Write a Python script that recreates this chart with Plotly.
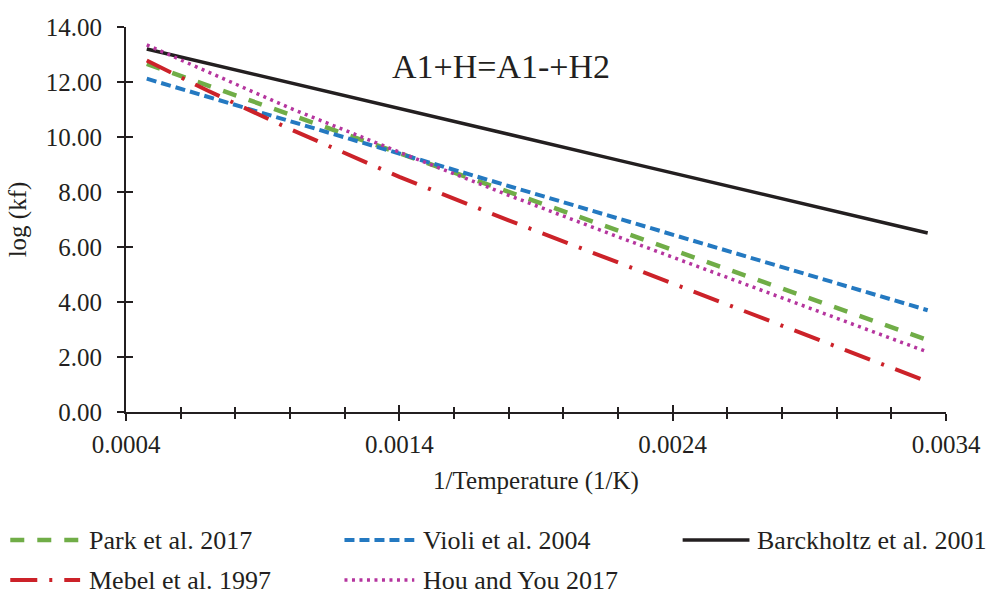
import plotly.graph_objects as go

# ---------------- data ----------------
inv_T = [0.000476, 0.0007, 0.0010, 0.0014, 0.0018, 0.0022, 0.0026, 0.0030, 0.003333]
park_2017 = [12.66, 11.87, 10.82, 9.41, 8.01, 6.60, 5.20, 3.79, 2.62]
violi_2004 = [12.12, 11.46, 10.58, 9.40, 8.22, 7.04, 5.86, 4.68, 3.70]
barckholtz_2001 = [13.20, 12.68, 11.97, 11.04, 10.10, 9.16, 8.22, 7.29, 6.51]
mebel_1997 = [12.78, 11.68, 10.29, 8.55, 6.97, 5.44, 3.90, 2.36, 1.10]
hou_you_2017 = [13.35, 12.36, 11.05, 9.45, 7.88, 6.37, 4.88, 3.40, 2.18]

x_ticks = [0.0004, 0.0014, 0.0024, 0.0034]
x_tick_labels = ["0.0004", "0.0014", "0.0024", "0.0034"]
y_ticks = [0, 2, 4, 6, 8, 10, 12, 14]
y_tick_labels = ["0.00", "2.00", "4.00", "6.00", "8.00", "10.00", "12.00", "14.00"]

# ---------------- styles ----------------
FONT = "Liberation Serif, Times New Roman, serif"
INK = "#231F20"
series = [
    ("Park et al. 2017", park_2017, "#70AD47", 4.5, "14px,13px"),
    ("Violi et al. 2004", violi_2004, "#2479C1", 4.0, "10px,5px"),
    ("Barckholtz et al. 2001", barckholtz_2001, "#231F20", 3.5, "solid"),
    ("Mebel et al. 1997", mebel_1997, "#CC2229", 4.0, "27px,12px,3px,12px"),
    ("Hou and You 2017", hou_you_2017, "#B5359E", 3.5, "3px,4.5px"),
]

W, H = 993, 597
ML, MR, MT, MB = 126, 45, 27, 185
PW, PH = W - ML - MR, H - MT - MB


def px(xp):
    return (xp - ML) / PW


def py(yp):
    return (H - MB - yp) / PH


fig = go.Figure()
for name, vals, color, width, dash in series:
    fig.add_trace(go.Scatter(
        x=inv_T, y=vals, mode="lines", name=name,
        line=dict(color=color, width=width, dash=dash),
        showlegend=False,
    ))

# dummy trace for the overlay axes that give "cross" ticks
fig.add_trace(go.Scatter(x=[None], y=[None], xaxis="x2", yaxis="y2",
                         showlegend=False, hoverinfo="skip"))

xr = [0.0004, 0.0034]
yr = [0, 14]
axis_common = dict(showgrid=False, zeroline=False, linecolor=INK, linewidth=2,
                   tickcolor=INK, tickwidth=2, ticklen=7,
                   tickfont=dict(family=FONT, size=25, color=INK))

fig.update_layout(
    width=W, height=H,
    margin=dict(l=ML, r=MR, t=MT, b=MB),
    plot_bgcolor="white", paper_bgcolor="white",
    font=dict(family=FONT, color=INK, size=25),
    xaxis=dict(range=xr, tickvals=x_ticks, ticktext=x_tick_labels,
               showline=True, ticks="outside", ticklabelstandoff=2,
               minor=dict(tick0=0.0004, dtick=0.0002, ticks="outside",
                          ticklen=5, tickwidth=1.5, tickcolor=INK),
               title=dict(text="1/Temperature (1/K)",
                          font=dict(family=FONT, size=25, color=INK), standoff=14),
               **axis_common),
    yaxis=dict(range=yr, tickvals=y_ticks, ticktext=y_tick_labels,
               showline=True, ticks="outside", ticklabelstandoff=10,
               title=dict(text="log (kf)", font=dict(family=FONT, size=25, color=INK),
                          standoff=12),
               **axis_common),
    xaxis2=dict(range=xr, overlaying="x", anchor="y", side="bottom",
                tickvals=x_ticks, showticklabels=False, ticks="inside",
                showline=False, showgrid=False, zeroline=False,
                ticklen=7, tickwidth=2, tickcolor=INK,
                minor=dict(tick0=0.0004, dtick=0.0002, ticks="inside",
                           ticklen=5, tickwidth=1.5, tickcolor=INK)),
    yaxis2=dict(range=yr, overlaying="y", anchor="x", side="left",
                tickvals=y_ticks, showticklabels=False, ticks="inside",
                showline=False, showgrid=False, zeroline=False,
                ticklen=7, tickwidth=2, tickcolor=INK),
    showlegend=False,
)

# chart title inside the plot
fig.add_annotation(text="A1+H=A1-+H2", xref="paper", yref="paper",
                   x=px(502), y=py(66), xanchor="center", yanchor="middle",
                   showarrow=False,
                   font=dict(family=FONT, size=34, color=INK))

# manual legend (long samples like the reference)
legend_slots = [
    (10, 80, 87, 540),
    (345, 415, 422, 540),
    (684, 751, 757, 540),
    (10, 80, 87, 580),
    (345, 415, 422, 580),
]
for (name, vals, color, width, dash), (x0, x1, xt, yc) in zip(series, legend_slots):
    fig.add_shape(type="line", xref="paper", yref="paper",
                  x0=px(x0), x1=px(x1), y0=py(yc), y1=py(yc),
                  line=dict(color=color, width=width, dash=dash))
    fig.add_annotation(text=name, xref="paper", yref="paper",
                       x=px(xt), y=py(yc), xanchor="left", yanchor="middle",
                       showarrow=False,
                       font=dict(family=FONT, size=26, color=INK))

fig.write_html("out.html",
               config={"displayModeBar": False},
               post_script="document.body.style.margin='0';"
                           "document.body.style.overflow='hidden';")
